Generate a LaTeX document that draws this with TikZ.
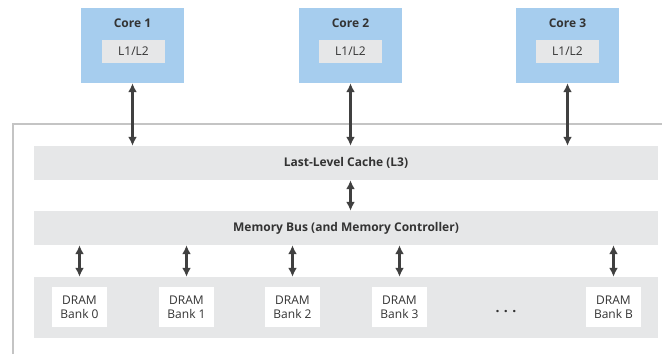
\documentclass[tikz,border=0pt]{standalone}
\usepackage{fontspec}
\setmainfont{Open Sans}
\usepackage{xcolor}
\usetikzlibrary{arrows.meta}

\definecolor{coreblue}{HTML}{A6CDEE}
\definecolor{cachegray}{HTML}{E6E7E8}
\definecolor{framegray}{HTML}{C4C4C4}
\definecolor{arrowgray}{HTML}{404040}
\definecolor{textgray}{HTML}{333333}

\tikzset{
  core/.style={rectangle, fill=coreblue, inner sep=0, minimum width=103pt, minimum height=75pt},
  corelabel/.style={font=\fontsize{12}{14}\selectfont\bfseries, text=textgray, inner sep=0},
  cache/.style={rectangle, fill=cachegray, inner sep=0, minimum width=63pt, minimum height=23pt,
    font=\fontsize{12}{14}\selectfont, text=textgray},
  bar/.style={rectangle, fill=cachegray, inner sep=0, minimum width=624pt,
    font=\fontsize{12}{14}\selectfont\bfseries, text=textgray},
  bank/.style={rectangle, fill=white, inner sep=0, minimum width=55pt, minimum height=40pt,
    align=center, font=\fontsize{12}{14}\selectfont, text=textgray},
  biarrow/.style={{Latex[length=9pt,width=9pt]}-{Latex[length=9pt,width=9pt]}, line width=2.8pt, arrowgray},
}

\begin{document}
\begin{tikzpicture}[x=1pt, y=-1pt]
    \useasboundingbox (0,0) rectangle (662,354);

    %% outer frame, open at the right and the bottom
    \draw [framegray, line width=2pt] (13,354) -- (13,124) -- (662,124);

    %% cores
    \node (c1) [core] at (132.5,45.5) {};
    \node (c2) [core] at (350.5,45.5) {};
    \node (c3) [core] at (567.5,45.5) {};

    \node (c1name) [corelabel] at (132.5,23) {Core 1};
    \node (c2name) [corelabel] at (350.5,23) {Core 2};
    \node (c3name) [corelabel] at (567.5,23) {Core 3};

    \node (c1cache) [cache] at (133.5,51.5) {L1/L2};
    \node (c2cache) [cache] at (350.5,51.5) {L1/L2};
    \node (c3cache) [cache] at (567.5,51.5) {L1/L2};

    %% shared levels
    \node (l3) [bar, minimum height=34pt] at (346,163) {Last-Level Cache (L3)};
    \node (bus) [bar, minimum height=34pt] at (346,228) {Memory Bus (and Memory Controller)};
    \node (dram) [bar, minimum height=61pt] at (346,307.5) {};

    %% banks
    \node (b0) [bank] at (79.5,307) {DRAM\\Bank 0};
    \node (b1) [bank] at (186.5,307) {DRAM\\Bank 1};
    \node (b2) [bank] at (292.5,307) {DRAM\\Bank 2};
    \node (b3) [bank] at (399.5,307) {DRAM\\Bank 3};
    \node (bB) [bank] at (613.5,307) {DRAM\\Bank B};
    \node (dots) [font=\fontsize{14}{16}\selectfont\bfseries, text=textgray, inner sep=0, anchor=base]
      at (506,312) {.\hspace{4.5pt}.\hspace{4.5pt}.};

    \draw [biarrow] (c1.south) -- (c1 |- l3.north);
    \draw [biarrow] (c2.south) -- (c2 |- l3.north);
    \draw [biarrow] (c3.south) -- (c3 |- l3.north);

    \draw [biarrow] (l3.south -| c2) -- (bus.north -| c2);

    \draw [biarrow] (b0 |- bus.south) -- (b0 |- dram.north);
    \draw [biarrow] (b1 |- bus.south) -- (b1 |- dram.north);
    \draw [biarrow] (b2 |- bus.south) -- (b2 |- dram.north);
    \draw [biarrow] (b3 |- bus.south) -- (b3 |- dram.north);
    \draw [biarrow] (bB |- bus.south) -- (bB |- dram.north);

\end{tikzpicture}
\end{document}
